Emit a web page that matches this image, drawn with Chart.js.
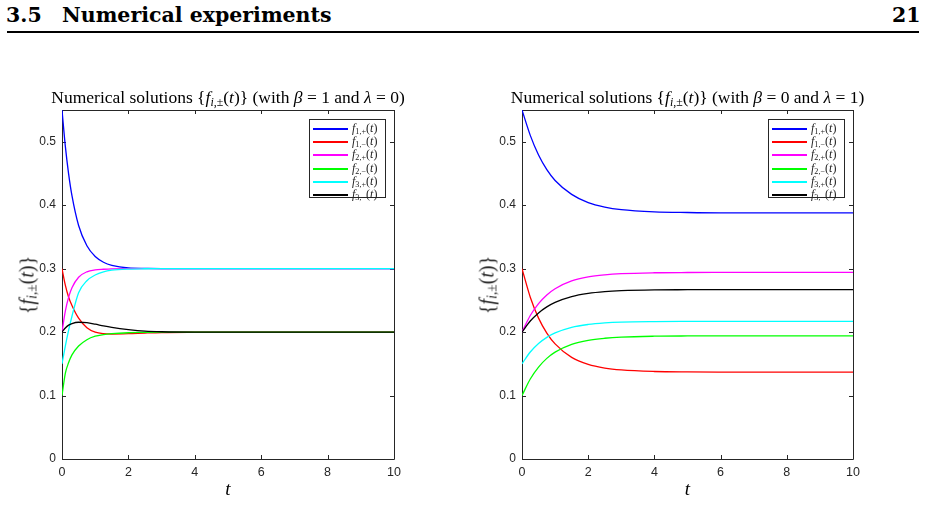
<!DOCTYPE html>
<html>
<head>
<meta charset="utf-8">
<script src="https://cdn.jsdelivr.net/npm/chart.js@4.4.0/dist/chart.umd.min.js"></script>
<style>
  body { margin:0; width:926px; height:530px; position:relative; overflow:hidden; background:#fff; font-family:'Liberation Serif', serif; color:#000; }
  .hdr { position:absolute; top:3px; font-family:'DejaVu Serif', serif; font-weight:bold; font-size:20.5px; white-space:nowrap; }
  .rule { position:absolute; left:7px; top:31px; width:912px; height:1.5px; background:#000; }
  .plot { position:absolute; top:0; }
  .ttl { position:absolute; top:87px; font-size:17.5px; white-space:nowrap; transform:translateX(-50%); }
  .xlab { position:absolute; top:478px; font-size:19px; font-style:italic; transform:translateX(-50%); }
  .ylab { position:absolute; font-size:20px; white-space:nowrap; color:#222; transform:translate(-50%,-50%) rotate(-90deg); }
  .leg { position:absolute; top:119px; width:77px; height:79px; border:1px solid #262626; background:#fff; box-sizing:border-box; font-size:12px; }
  .row { position:absolute; left:3px; height:13px; }
  .smp { position:absolute; left:0; top:6px; width:35px; height:1.5px; }
  .lt { position:absolute; left:39px; top:0; white-space:nowrap; line-height:13px; color:#222; }
  sub { font-size:68%; vertical-align:-0.25em; line-height:0; }
  i { font-style:italic; }
</style>
</head>
<body>
<div class="hdr" style="left:6px">3.5</div>
<div class="hdr" style="left:62px">Numerical experiments</div>
<div class="hdr" style="left:892px">21</div>
<div class="rule"></div>

<canvas id="c1" class="plot" style="left:0" width="460" height="530"></canvas>
<canvas id="c2" class="plot" style="left:460px" width="466" height="530"></canvas>

<script>
// time grids
var tLeft  = [0, 0.1, 0.2, 0.3, 0.5, 0.75, 1, 1.25, 1.5, 2, 2.5, 3, 4, 5, 6, 8, 10];
var tRight = [0, 0.25, 0.5, 0.75, 1, 1.5, 2, 2.5, 3, 4, 5, 6, 8, 10];

// beta = 1, lambda = 0
var f1pL = [0.55, 0.493, 0.449, 0.415, 0.368, 0.336, 0.319, 0.310, 0.305, 0.301, 0.3004, 0.3001, 0.3, 0.3, 0.3, 0.3, 0.3];
var f1mL = [0.3, 0.274, 0.255, 0.242, 0.222, 0.207, 0.2, 0.1975, 0.197, 0.1975, 0.1985, 0.1993, 0.1998, 0.2, 0.2, 0.2, 0.2];
var f2pL = [0.2, 0.233, 0.255, 0.270, 0.2865, 0.295, 0.298, 0.299, 0.2997, 0.3, 0.3, 0.3, 0.3, 0.3, 0.3, 0.3, 0.3];
var f2mL = [0.1, 0.135, 0.152, 0.164, 0.178, 0.188, 0.1935, 0.196, 0.1975, 0.199, 0.1995, 0.1998, 0.2, 0.2, 0.2, 0.2, 0.2];
var f3pL = [0.15, 0.178, 0.203, 0.225, 0.262, 0.281, 0.290, 0.295, 0.2975, 0.2993, 0.2998, 0.3, 0.3, 0.3, 0.3, 0.3, 0.3];
var f3mL = [0.2, 0.2065, 0.211, 0.2135, 0.2155, 0.2148, 0.2125, 0.2098, 0.2075, 0.204, 0.2015, 0.2005, 0.2, 0.2, 0.2, 0.2, 0.2];

// beta = 0, lambda = 1
var f1pR = [0.55, 0.510, 0.479, 0.456, 0.439, 0.417, 0.404, 0.397, 0.393, 0.3896, 0.3885, 0.388, 0.388, 0.388];
var f1mR = [0.3, 0.255, 0.222, 0.1985, 0.1814, 0.1602, 0.1491, 0.1433, 0.1403, 0.1379, 0.1372, 0.137, 0.137, 0.137];
var f2pR = [0.2, 0.2261, 0.2449, 0.2586, 0.2684, 0.2806, 0.287, 0.2903, 0.2921, 0.2935, 0.2939, 0.294, 0.294, 0.294];
var f2mR = [0.1, 0.1261, 0.1449, 0.1586, 0.1684, 0.1806, 0.187, 0.1903, 0.1921, 0.1935, 0.1939, 0.194, 0.194, 0.194];
var f3pR = [0.15, 0.1686, 0.182, 0.1917, 0.1987, 0.2075, 0.212, 0.2144, 0.2157, 0.2166, 0.2169, 0.217, 0.217, 0.217];
var f3mR = [0.2, 0.2174, 0.2302, 0.2397, 0.2468, 0.2559, 0.2609, 0.2637, 0.2652, 0.2665, 0.2668, 0.267, 0.267, 0.267];

var seriesSubs = ['1,+', '1,\u2212', '2,+', '2,\u2212', '3,+', '3,\u2212'];
var lineColors = ['#0000ff', '#ff0000', '#ff00ff', '#00ff00', '#00ffff', '#000000'];
var xTicks = [0, 2, 4, 6, 8, 10];
var yTicks = [0, 0.1, 0.2, 0.3, 0.4, 0.5];

// box round the plot with inward ticks (matlab style)
var boxPlugin = {
    id: 'boxTicks',
    beforeDatasetsDraw: function (chart) {
        var a = chart.chartArea, ctx = chart.ctx;
        var sx = chart.scales.x, sy = chart.scales.y;
        ctx.save();
        ctx.strokeStyle = '#262626';
        ctx.lineWidth = 1;
        ctx.beginPath();
        ctx.rect(Math.round(a.left) + 0.5, Math.round(a.top) + 0.5, Math.round(a.right - a.left), Math.round(a.bottom - a.top));
        xTicks.forEach(function (v) {
            var px = Math.round(sx.getPixelForValue(v)) + 0.5;
            ctx.moveTo(px, a.bottom); ctx.lineTo(px, a.bottom - 4);
            ctx.moveTo(px, a.top); ctx.lineTo(px, a.top + 4);
        });
        yTicks.forEach(function (v) {
            var py = Math.round(sy.getPixelForValue(v)) + 0.5;
            ctx.moveTo(a.left, py); ctx.lineTo(a.left + 4, py);
            ctx.moveTo(a.right, py); ctx.lineTo(a.right - 4, py);
        });
        ctx.stroke();
        ctx.restore();
    }
};

function montaDatasets(tt, series) {
    return series.map(function (arr, i) {
        return {
            data: tt.map(function (t, k) { return { x: t, y: arr[k] }; }),
            borderColor: lineColors[i],
            borderWidth: 1.3,
            pointRadius: 0,
            fill: false,
            cubicInterpolationMode: 'monotone',
            order: series.length - i
        };
    });
}

function criarGrafico(id, tt, series, padRight) {
    var ctx = document.getElementById(id).getContext('2d');
    return new Chart(ctx, {
        type: 'line',
        data: { datasets: montaDatasets(tt, series) },
        plugins: [boxPlugin],
        options: {
            responsive: false,
            animation: false,
            events: [],
            layout: { padding: { left: 0, top: 110, right: padRight, bottom: 51 } },
            plugins: { legend: { display: false }, tooltip: { enabled: false } },
            scales: {
                x: {
                    type: 'linear', min: 0, max: 10,
                    afterFit: function (s) { s.height = 20; },
                    afterBuildTicks: function (s) { s.ticks = xTicks.map(function (v) { return { value: v }; }); },
                    grid: { display: false, drawTicks: false },
                    border: { display: false },
                    ticks: { color: '#262626', padding: 6, font: { family: 'Liberation Sans', size: 12.5 } }
                },
                y: {
                    type: 'linear', min: 0, max: 0.55,
                    afterFit: function (s) { s.width = 62; },
                    afterBuildTicks: function (s) { s.ticks = yTicks.map(function (v) { return { value: v }; }); },
                    grid: { display: false, drawTicks: false },
                    border: { display: false },
                    ticks: {
                        color: '#262626', padding: 6, font: { family: 'Liberation Sans', size: 12 },
                        callback: function (v) { return String(+v.toFixed(2)); }
                    }
                }
            }
        }
    });
}

var leftChart = criarGrafico('c1', tLeft, [f1pL, f1mL, f2pL, f2mL, f3pL, f3mL], 66);
var rightChart = criarGrafico('c2', tRight, [f1pR, f1mR, f2pR, f2mR, f3pR, f3mR], 73);

// titles, axis labels and legends as html text
function poeTextos(chart, offset, titulo) {
    var a = chart.chartArea;
    var cx = offset + (a.left + a.right) / 2;
    var cy = (a.top + a.bottom) / 2;
    var html = '';
    html += '<div class="ttl" style="left:' + cx + 'px">' + titulo + '</div>';
    html += '<div class="xlab" style="left:' + cx + 'px">t</div>';
    html += '<div class="ylab" style="left:' + (offset + 27) + 'px;top:' + cy + 'px">{<i>f</i><sub><i>i</i>,\u00b1</sub>(<i>t</i>)}</div>';
    var leg = '<div class="leg" style="left:' + (offset + a.right - 85) + 'px">';
    seriesSubs.forEach(function (s, i) {
        leg += '<div class="row" style="top:' + Math.round(2 + i * 13.2) + 'px">' +
            '<div class="smp" style="background:' + lineColors[i] + '"></div>' +
            '<div class="lt"><i>f</i><sub>' + s + '</sub>(<i>t</i>)</div></div>';
    });
    leg += '</div>';
    html += leg;
    document.body.insertAdjacentHTML('beforeend', html);
}

poeTextos(leftChart, 0, 'Numerical solutions {<i>f</i><sub><i>i</i>,\u00b1</sub>(<i>t</i>)} (with <i>\u03b2</i> = 1 and <i>\u03bb</i> = 0)');
poeTextos(rightChart, 460, 'Numerical solutions {<i>f</i><sub><i>i</i>,\u00b1</sub>(<i>t</i>)} (with <i>\u03b2</i> = 0 and <i>\u03bb</i> = 1)');
</script>
</body>
</html>
